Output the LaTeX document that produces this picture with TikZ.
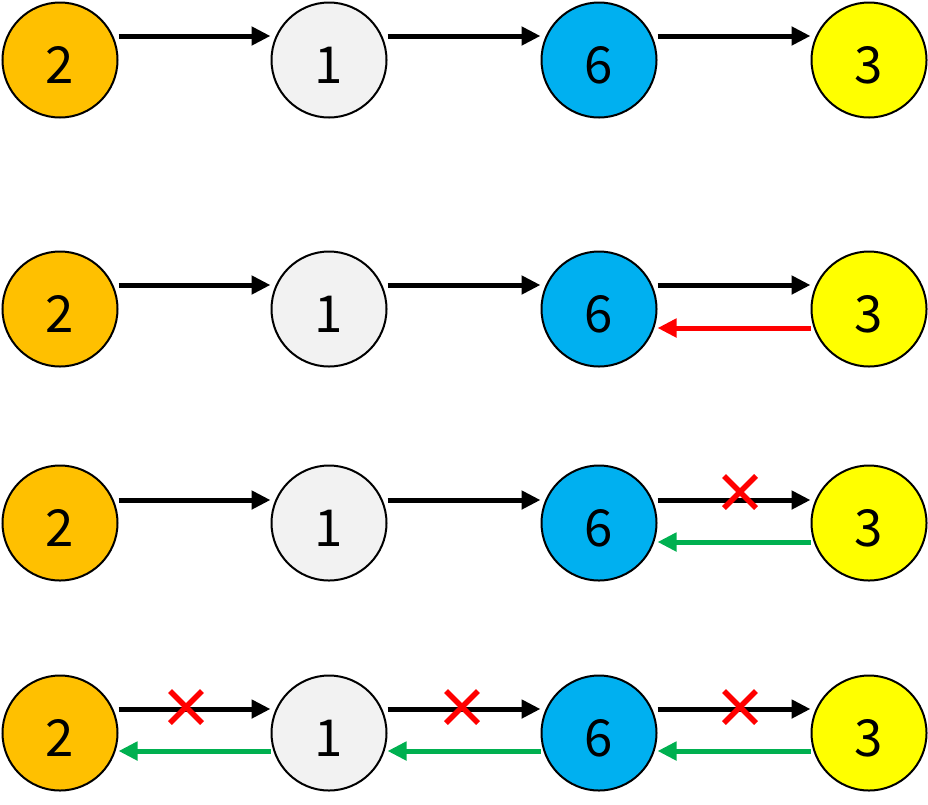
\documentclass[tikz,border=0pt]{standalone}
\usepackage{fontspec}
\setmainfont{Noto Sans CJK SC}
\usetikzlibrary{arrows.meta}
\definecolor{nodeorange}{HTML}{FFC000}
\definecolor{nodegray}{HTML}{F2F2F2}
\definecolor{nodeblue}{HTML}{00B0F0}
\definecolor{nodeyellow}{HTML}{FFFF00}
\definecolor{backgreen}{HTML}{00B050}

\begin{document}
\begin{tikzpicture}
        [x=1pt,y=-1pt,
         every node/.style={draw,shape=circle,line width=2pt,inner sep=0,minimum size=115pt,
                            font=\fontsize{51}{51}\selectfont,text height=47pt},
         fwd/.style={line width=5pt,-{Triangle[length=19pt,width=18pt]}},
         back/.style={fwd,red},
         backok/.style={fwd,backgreen},
         cross/.style={line width=5.5pt,red}]

        \useasboundingbox (0,0) rectangle (928,804);

        % row 1
        \node[fill=nodeorange] (11) at (60,60) {2};
        \node[fill=nodegray] (12) at (329,60) {1};
        \node[fill=nodeblue] (13) at (599,60) {6};
        \node[fill=nodeyellow] (14) at (869,60) {3};

        \draw[fwd] ([yshift=24pt]11.east) -- ([yshift=24pt]12.west);
        \draw[fwd] ([yshift=24pt]12.east) -- ([yshift=24pt]13.west);
        \draw[fwd] ([yshift=24pt]13.east) -- ([yshift=24pt]14.west);

        % row 2
        \node[fill=nodeorange] (21) at (60,309) {2};
        \node[fill=nodegray] (22) at (329,309) {1};
        \node[fill=nodeblue] (23) at (599,309) {6};
        \node[fill=nodeyellow] (24) at (869,309) {3};

        \draw[fwd] ([yshift=24pt]21.east) -- ([yshift=24pt]22.west);
        \draw[fwd] ([yshift=24pt]22.east) -- ([yshift=24pt]23.west);
        \draw[fwd] ([yshift=24pt]23.east) -- ([yshift=24pt]24.west);
        \draw[back] ([yshift=-19pt]24.west) -- ([yshift=-19pt]23.east);

        % row 3
        \node[fill=nodeorange] (31) at (60,523) {2};
        \node[fill=nodegray] (32) at (329,523) {1};
        \node[fill=nodeblue] (33) at (599,523) {6};
        \node[fill=nodeyellow] (34) at (869,523) {3};

        \draw[fwd] ([yshift=23pt]31.east) -- ([yshift=23pt]32.west);
        \draw[fwd] ([yshift=23pt]32.east) -- ([yshift=23pt]33.west);
        \draw[fwd] ([yshift=23pt]33.east) -- ([yshift=23pt]34.west);
        \draw[backok] ([yshift=-19pt]34.west) -- ([yshift=-19pt]33.east);

        % row 4
        \node[fill=nodeorange] (41) at (60,733) {2};
        \node[fill=nodegray] (42) at (329,733) {1};
        \node[fill=nodeblue] (43) at (599,733) {6};
        \node[fill=nodeyellow] (44) at (869,733) {3};

        \draw[fwd] ([yshift=24pt]41.east) -- ([yshift=24pt]42.west);
        \draw[fwd] ([yshift=24pt]42.east) -- ([yshift=24pt]43.west);
        \draw[fwd] ([yshift=24pt]43.east) -- ([yshift=24pt]44.west);
        \draw[backok] ([yshift=-18pt]42.west) -- ([yshift=-18pt]41.east);
        \draw[backok] ([yshift=-18pt]43.west) -- ([yshift=-18pt]42.east);
        \draw[backok] ([yshift=-18pt]44.west) -- ([yshift=-18pt]43.east);

        % crossed-out links
        \foreach \cx/\cy in {740/492, 186/707, 462/707, 740/707} {
          \draw[cross] (\cx-16,\cy-16) -- (\cx+16,\cy+16);
          \draw[cross] (\cx-16,\cy+16) -- (\cx+16,\cy-16);
        }
      \end{tikzpicture}
\end{document}
